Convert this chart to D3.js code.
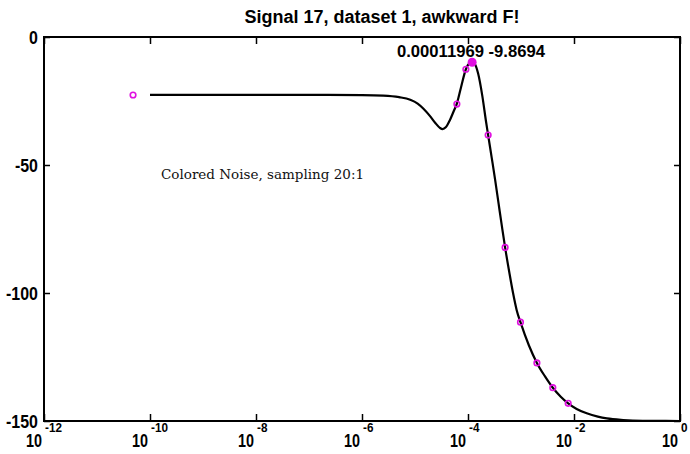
<!DOCTYPE html>
<html>
<head>
<meta charset="utf-8">
<script src="https://cdn.jsdelivr.net/npm/d3@7"></script>
<style>
  body { margin: 0; background: #fff; }
  svg { display: block; }
  .lbl { font-family: "Liberation Sans", Arial, sans-serif; font-weight: bold; fill: #000; }
</style>
</head>
<body>
<script>
// curve: frequency and magnitude (dB)
const curveFreq = [1e-10, 1e-9, 1e-8, 1e-7, 1e-6, 10 ** -5.6, 10 ** -5.3, 10 ** -5.09, 10 ** -4.95, 10 ** -4.84,
    10 ** -4.72, 10 ** -4.62, 10 ** -4.53, 10 ** -4.48, 10 ** -4.42, 10 ** -4.34, 10 ** -4.27, 10 ** -4.21, 10 ** -4.13,
    10 ** -4.04, 10 ** -3.97, 1.1969e-4, 10 ** -3.87, 10 ** -3.81, 10 ** -3.73, 10 ** -3.66, 10 ** -3.62, 10 ** -3.55,
    10 ** -3.49, 10 ** -3.42, 10 ** -3.36, 10 ** -3.30, 10 ** -3.22, 10 ** -3.15, 10 ** -3.08, 10 ** -3.01, 10 ** -2.85,
    10 ** -2.70, 10 ** -2.55, 10 ** -2.40, 10 ** -2.25, 10 ** -2.11, 10 ** -1.95, 10 ** -1.76, 10 ** -1.55, 10 ** -1.38,
    10 ** -1.07, 10 ** -0.7, 1];
const curveMag = [-22.6, -22.6, -22.6, -22.6, -22.7, -22.9, -23.5, -24.5, -26, -28,
    -30.8, -33.5, -35.5, -36, -35.3, -32.4, -29, -26, -19.5,
    -12.6, -10.2, -9.8694, -10.6, -14.2, -23, -33, -38.3, -47.5,
    -55.5, -65.5, -74, -82.2, -92, -100, -106.8, -111.4, -120.5,
    -127.3, -132.5, -137, -140.5, -143.1, -145.3, -147, -148.3, -149,
    -149.6, -149.9, -150];

// sampled points (open circles)
const sampleFreq = [10 ** -10.32, 10 ** -4.21, 10 ** -4.04, 10 ** -3.62, 10 ** -3.30, 10 ** -3.01, 10 ** -2.70, 10 ** -2.40, 10 ** -2.11];
const sampleMag = [-22.66, -26.2, -12.6, -38.3, -82.2, -111.4, -127.3, -137, -143.1];

// peak
const peakFreq = 1.1969e-4;
const peakMag = -9.8694;

const xTickExp = [-12, -10, -8, -6, -4, -2, 0];
const yTicks = [0, -50, -100, -150];

const title = 'Signal 17, dataset 1, awkward F!';
const note = 'Colored Noise, sampling 20:1';

const W = 690, H = 454;
const box = { left: 44, right: 680, top: 37, bottom: 421 };
const pink = '#e010e0';

const x = d3.scaleLog().domain([1e-12, 1]).range([box.left, box.right]);
const y = d3.scaleLinear().domain([-150, 0]).range([box.bottom, box.top]);

const svg = d3.select('body').append('svg')
    .attr('width', W)
    .attr('height', H);

// squeeze bold labels to mimic the narrow Helvetica of the original
function squeeze(sel, f) {
    sel.each(function () {
        const w = this.getComputedTextLength();
        d3.select(this).attr('textLength', w * f).attr('lengthAdjust', 'spacingAndGlyphs');
    });
}

// title
svg.append('text').attr('class', 'lbl')
    .attr('x', 382).attr('y', 23)
    .attr('text-anchor', 'middle')
    .attr('font-size', 18)
    .attr('textLength', 275).attr('lengthAdjust', 'spacingAndGlyphs')
    .text(title);

// frame
svg.append('rect')
    .attr('x', box.left).attr('y', box.top)
    .attr('width', box.right - box.left).attr('height', box.bottom - box.top)
    .attr('fill', 'none').attr('stroke', '#000').attr('stroke-width', 2);

// axes, ticks pointing inward
const xTicks = xTickExp.map(e => 10 ** e);
svg.append('g')
    .attr('transform', `translate(0,${box.bottom})`)
    .call(d3.axisTop(x).tickValues(xTicks).tickSize(7).tickFormat(''))
    .call(g => g.select('.domain').remove())
    .call(g => g.selectAll('line').attr('stroke-width', 1.5));
svg.append('g')
    .attr('transform', `translate(0,${box.top})`)
    .call(d3.axisBottom(x).tickValues(xTicks).tickSize(7).tickFormat(''))
    .call(g => g.select('.domain').remove())
    .call(g => g.selectAll('line').attr('stroke-width', 1.5));
svg.append('g')
    .attr('transform', `translate(${box.left},0)`)
    .call(d3.axisRight(y).tickValues(yTicks).tickSize(6).tickFormat(''))
    .call(g => g.select('.domain').remove())
    .call(g => g.selectAll('line').attr('stroke-width', 1.5));
svg.append('g')
    .attr('transform', `translate(${box.right},0)`)
    .call(d3.axisLeft(y).tickValues(yTicks).tickSize(6).tickFormat(''))
    .call(g => g.select('.domain').remove())
    .call(g => g.selectAll('line').attr('stroke-width', 1.5));

// y tick labels
svg.append('g').selectAll('text')
    .data(yTicks)
    .enter().append('text')
    .attr('class', 'lbl')
    .attr('x', box.left - 6)
    .attr('y', d => y(d) + 7)
    .attr('text-anchor', 'end')
    .attr('font-size', 19)
    .text(d => d)
    .call(squeeze, 0.84);

// x tick labels: 10 with superscript exponent
const xl = svg.append('g').selectAll('g')
    .data(xTickExp)
    .enter().append('g')
    .attr('transform', d => `translate(${x(10 ** d)},0)`);
xl.append('text').attr('class', 'lbl')
    .attr('x', -2).attr('y', 447)
    .attr('text-anchor', 'end')
    .attr('font-size', 19)
    .attr('textLength', 16).attr('lengthAdjust', 'spacingAndGlyphs')
    .text('10');
xl.append('text').attr('class', 'lbl')
    .attr('x', 1).attr('y', 432)
    .attr('font-size', 13)
    .text(d => d)
    .call(squeeze, 0.9);

// curve
const line = d3.line()
    .x((d, i) => x(curveFreq[i]))
    .y(d => y(d))
    .curve(d3.curveMonotoneX);
svg.append('path')
    .datum(curveMag)
    .attr('d', line)
    .attr('fill', 'none')
    .attr('stroke', '#000')
    .attr('stroke-width', 2.2);

// samples
svg.append('g').selectAll('circle')
    .data(sampleMag)
    .enter().append('circle')
    .attr('cx', (d, i) => x(sampleFreq[i]))
    .attr('cy', d => y(d))
    .attr('r', 2.8)
    .attr('fill', 'none')
    .attr('stroke', pink)
    .attr('stroke-width', 1.6);

svg.append('circle')
    .attr('cx', x(peakFreq)).attr('cy', y(peakMag))
    .attr('r', 4.5)
    .attr('fill', pink);

// peak label
svg.append('text').attr('class', 'lbl')
    .attr('x', 397).attr('y', 57)
    .attr('font-size', 17)
    .attr('textLength', 148).attr('lengthAdjust', 'spacingAndGlyphs')
    .text(`${peakFreq} ${peakMag}`);

// note
svg.append('text')
    .attr('x', 161).attr('y', 179)
    .attr('font-family', '"DejaVu Serif", serif')
    .attr('font-size', 13.5)
    .attr('fill', '#111')
    .text(note);
</script>
</body>
</html>
